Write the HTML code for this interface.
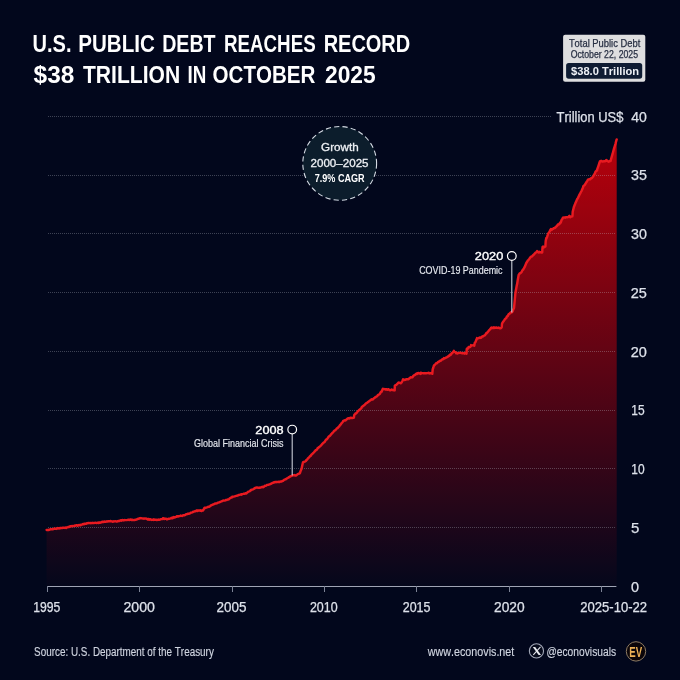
<!DOCTYPE html>
<html lang="en">
<head>
<meta charset="utf-8">
<title>U.S. Public Debt Reaches Record $38 Trillion in October 2025</title>
<style>
html,body{margin:0;padding:0;background:#02071c;}
body{width:680px;height:680px;overflow:hidden;}
svg{display:block;font-family:"Liberation Sans",sans-serif;font-kerning:none;}
.ti text{font-weight:700;font-size:24.2px;fill:#ffffff;}
.grid line{stroke:#c8ccd8;stroke-opacity:.3;stroke-width:1;stroke-dasharray:1 1;}
.al text{font-size:14.2px;fill:#dde1ea;stroke:#dde1ea;stroke-width:.25;}
.axis line{stroke:#9fa4b4;stroke-width:1;}
.axis .tk line{stroke:#7d8396;}
.bx text{fill:#262e42;font-size:10.6px;stroke:#262e42;stroke-width:.25;}
.bx text+text{font-size:10.3px;}
.bp text{fill:#eef1f6;font-size:11.8px;font-weight:700;}
.gr text{font-size:11.7px;fill:#eef1f5;stroke:#eef1f5;stroke-width:.3;}
.gb text{font-size:11.7px;fill:#ffffff;font-weight:700;}
.yr text{font-size:11.8px;fill:#ffffff;stroke:#ffffff;stroke-width:.35;}
.ds text{font-size:10.6px;fill:#e6e9ef;stroke:#e6e9ef;stroke-width:.15;}
.ft text{font-size:12.5px;fill:#d0d5e0;stroke:#d0d5e0;stroke-width:.15;}
.ev text{font-size:15.3px;font-weight:700;fill:#ecb157;}
</style>
</head>
<body>
<svg width="680" height="680" viewBox="0 0 680 680">
<defs>
<linearGradient id="ar" gradientUnits="userSpaceOnUse" x1="0" y1="137" x2="0" y2="586">
<stop offset="0" stop-color="#c8000a" stop-opacity="0.92"/>
<stop offset="1" stop-color="#c8000a" stop-opacity="0.015"/>
</linearGradient>
</defs>
<rect width="680" height="680" fill="#02071c"/>

<g class="ti">
<text x="32.56" y="51.7" textLength="38.94" lengthAdjust="spacingAndGlyphs">U.S.</text>
<text x="78.22" y="51.7" textLength="76.56" lengthAdjust="spacingAndGlyphs">PUBLIC</text>
<text x="162.18" y="51.7" textLength="53.42" lengthAdjust="spacingAndGlyphs">DEBT</text>
<text x="224.04" y="51.7" textLength="91.6" lengthAdjust="spacingAndGlyphs">REACHES</text>
<text x="323.66" y="51.7" textLength="86.56" lengthAdjust="spacingAndGlyphs">RECORD</text>
<text x="33.55" y="83.3" textLength="40.79" lengthAdjust="spacingAndGlyphs">$38</text>
<text x="82.98" y="83.3" textLength="97.19" lengthAdjust="spacingAndGlyphs">TRILLION</text>
<text x="187.54" y="83.3" textLength="18.79" lengthAdjust="spacingAndGlyphs">IN</text>
<text x="212.55" y="83.3" textLength="102.88" lengthAdjust="spacingAndGlyphs">OCTOBER</text>
<text x="324.99" y="83.3" textLength="50.66" lengthAdjust="spacingAndGlyphs">2025</text>
</g>

<path d="M46.6,530.0 L47.6,529.9 L48.4,530.1 L49.1,529.7 L49.9,529.5 L50.7,529.2 L51.4,529.3 L52.2,529.3 L53.0,529.2 L53.8,528.8 L54.5,528.5 L55.3,528.7 L56.1,528.9 L56.8,528.7 L57.6,528.1 L58.4,528.2 L59.1,528.5 L59.9,528.0 L60.5,528.2 L60.7,528.0 L61.5,528.0 L62.2,528.0 L63.0,527.7 L63.8,527.8 L64.5,527.9 L65.3,527.6 L65.9,527.5 L66.1,528.0 L66.8,527.4 L67.6,527.3 L68.4,526.9 L69.1,526.9 L69.9,526.4 L70.7,526.2 L70.7,526.2 L71.5,526.3 L72.2,526.0 L73.0,526.1 L73.8,526.0 L74.5,525.6 L75.3,525.8 L76.1,525.3 L76.8,525.2 L77.6,525.7 L78.4,525.1 L79.2,525.3 L79.9,525.0 L79.9,525.0 L80.7,525.2 L81.5,524.6 L82.2,524.5 L83.0,524.0 L83.8,524.2 L84.5,523.7 L84.5,524.0 L85.3,523.8 L86.1,523.8 L86.8,523.2 L87.6,523.3 L88.4,522.9 L89.2,523.1 L89.9,523.0 L90.1,522.9 L90.7,523.2 L91.5,523.1 L92.2,522.8 L93.0,523.1 L93.8,522.9 L94.5,522.9 L95.3,522.8 L96.1,522.9 L96.9,522.9 L97.6,522.7 L98.4,522.7 L98.4,522.9 L99.2,522.4 L99.9,522.7 L100.7,522.5 L101.5,522.3 L102.2,521.7 L103.0,521.8 L103.0,521.9 L103.8,521.9 L104.5,521.5 L105.3,521.7 L106.1,521.7 L106.9,521.3 L107.6,521.5 L108.4,521.3 L108.6,521.2 L109.2,521.3 L109.9,521.3 L110.7,521.0 L111.5,521.4 L112.2,521.5 L113.0,521.7 L113.8,521.3 L114.6,521.4 L115.3,521.3 L116.1,521.4 L116.9,521.4 L116.9,521.5 L117.6,521.3 L118.4,521.0 L119.2,521.0 L119.9,520.7 L120.7,520.2 L121.5,520.3 L121.5,520.7 L122.2,520.0 L123.0,520.2 L123.8,520.4 L124.6,520.0 L125.3,520.1 L126.1,520.1 L126.9,520.1 L127.0,520.1 L127.6,519.9 L128.4,519.7 L129.2,520.0 L129.9,519.8 L130.7,519.5 L131.5,520.1 L132.3,519.8 L133.0,519.9 L133.8,520.1 L134.6,520.0 L135.3,519.8 L135.3,519.7 L136.1,519.7 L136.9,519.3 L137.6,519.0 L138.4,518.8 L139.2,518.5 L139.9,518.3 L140.0,518.3 L140.7,518.1 L141.5,518.3 L142.3,518.4 L143.0,518.4 L143.8,518.7 L144.6,518.6 L144.6,518.4 L145.3,518.6 L146.1,518.5 L146.9,519.0 L147.6,519.4 L148.4,518.9 L149.2,519.3 L149.2,519.7 L150.0,519.2 L150.7,519.5 L151.5,519.9 L152.3,519.7 L153.0,519.8 L153.8,519.4 L153.8,519.9 L154.6,519.8 L155.3,519.8 L156.1,519.8 L156.9,520.0 L157.7,519.8 L158.4,519.6 L158.4,519.7 L159.2,519.8 L160.0,519.6 L160.7,519.2 L161.5,519.1 L162.3,518.9 L163.0,518.9 L163.0,518.1 L163.8,518.4 L164.6,518.9 L165.3,518.6 L166.1,518.6 L166.9,519.4 L167.7,519.1 L167.7,519.1 L168.4,518.7 L169.2,518.7 L170.0,518.6 L170.7,518.4 L171.5,517.9 L172.3,517.6 L172.3,518.2 L173.0,518.0 L173.8,517.0 L174.6,517.5 L175.4,517.2 L176.1,516.8 L176.9,516.4 L176.9,516.3 L177.7,516.3 L178.4,516.5 L179.2,516.1 L180.0,516.0 L180.7,515.6 L181.5,515.9 L182.3,516.0 L182.4,515.9 L183.0,515.2 L183.8,515.3 L184.6,515.3 L185.4,514.7 L186.1,514.3 L186.1,514.1 L186.9,514.3 L187.7,513.8 L188.4,513.6 L189.2,513.7 L190.0,513.4 L190.7,512.8 L190.7,512.8 L191.5,512.6 L192.3,512.4 L193.1,511.8 L193.8,511.7 L194.6,511.4 L195.4,511.2 L195.4,511.0 L196.1,511.0 L196.9,510.3 L197.7,510.9 L198.4,510.5 L199.2,510.4 L200.0,510.7 L200.7,510.3 L201.5,511.0 L202.3,510.4 L202.7,510.3 L203.1,510.5 L203.8,509.2 L204.6,507.7 L204.6,508.0 L205.4,508.0 L206.1,507.6 L206.9,507.4 L207.7,507.0 L208.4,506.8 L209.2,506.7 L209.2,506.8 L210.0,506.2 L210.8,505.5 L211.5,505.3 L212.3,504.8 L213.1,504.5 L213.8,504.4 L213.8,504.2 L214.6,503.7 L215.4,503.5 L216.1,503.5 L216.9,503.4 L217.7,502.7 L218.4,502.6 L219.2,502.3 L220.0,502.0 L220.8,501.6 L221.5,501.4 L222.3,501.0 L223.1,500.7 L223.1,500.6 L223.8,500.5 L224.6,500.6 L225.4,500.3 L226.1,499.9 L226.9,499.9 L227.7,499.5 L227.7,499.4 L228.5,499.4 L229.2,499.1 L230.0,498.1 L230.8,497.9 L231.5,497.3 L232.3,497.3 L232.3,496.7 L233.1,496.6 L233.8,496.6 L234.6,496.4 L235.4,496.1 L236.1,495.9 L236.9,495.7 L237.7,495.6 L238.5,494.9 L239.2,494.9 L240.0,494.7 L240.8,494.4 L241.5,494.7 L241.5,494.1 L242.3,494.1 L243.1,493.9 L243.8,493.7 L244.6,493.7 L245.4,493.2 L246.2,493.3 L246.2,493.4 L246.9,492.9 L247.7,492.2 L248.5,491.6 L249.2,491.4 L250.0,491.1 L250.8,490.1 L250.8,490.6 L251.5,489.7 L252.3,489.6 L253.1,489.3 L253.8,488.9 L254.6,488.3 L255.4,487.8 L255.4,488.0 L256.2,487.7 L256.9,487.4 L257.7,487.7 L258.5,487.8 L259.2,487.7 L260.0,487.7 L260.0,487.5 L260.8,487.4 L261.5,487.3 L262.3,486.8 L263.1,487.3 L263.9,486.8 L264.6,485.9 L264.6,486.1 L265.4,485.9 L266.2,485.6 L266.9,485.0 L267.7,484.9 L268.5,484.7 L269.2,484.6 L269.2,484.4 L270.0,484.2 L270.8,483.8 L271.5,483.5 L272.3,483.0 L273.1,482.8 L273.9,482.2 L273.9,482.6 L274.6,482.4 L275.4,481.9 L276.2,482.2 L276.9,481.9 L277.7,481.9 L278.5,481.8 L278.5,482.0 L279.2,482.1 L280.0,481.6 L280.8,481.4 L281.6,481.4 L282.3,480.9 L283.1,480.7 L283.1,480.8 L283.9,480.0 L284.6,479.6 L285.4,479.3 L286.2,479.0 L286.9,478.4 L287.7,478.0 L287.7,478.0 L288.5,477.5 L289.2,477.2 L290.0,476.6 L290.8,476.1 L291.6,475.8 L292.3,475.6 L292.3,475.6 L293.1,475.2 L293.9,475.3 L294.6,475.1 L295.4,475.6 L296.2,475.5 L296.9,474.8 L296.9,474.8 L297.7,474.1 L298.5,473.8 L299.3,473.5 L299.7,473.3 L300.0,472.8 L300.8,470.4 L301.6,468.7 L301.6,468.5 L302.3,465.3 L303.0,462.3 L303.1,462.2 L303.9,462.0 L304.6,461.6 L305.4,461.3 L306.2,460.7 L306.2,460.2 L306.9,459.9 L307.7,458.7 L308.5,457.9 L309.3,457.1 L310.0,456.2 L310.8,455.8 L310.8,455.5 L311.6,454.4 L312.3,454.1 L313.1,453.1 L313.9,452.4 L314.6,451.4 L315.4,450.9 L315.4,450.3 L316.2,450.0 L317.0,449.6 L317.7,448.1 L318.5,447.6 L319.3,447.0 L320.0,446.3 L320.0,446.5 L320.8,445.7 L321.6,444.7 L322.3,443.9 L323.1,443.1 L323.9,442.5 L324.6,441.8 L324.7,441.8 L325.4,440.6 L326.2,439.6 L327.0,439.1 L327.7,438.2 L328.5,436.9 L329.3,436.1 L329.3,436.1 L330.0,435.8 L330.8,434.7 L331.6,433.9 L332.3,432.9 L333.1,432.5 L333.9,431.0 L333.9,431.2 L334.7,430.5 L335.4,430.1 L336.2,429.2 L337.0,428.1 L337.7,428.1 L338.5,427.0 L338.5,426.9 L339.3,426.3 L340.0,425.0 L340.8,424.4 L341.6,423.1 L342.4,422.3 L343.1,421.5 L343.1,421.0 L343.9,420.8 L344.7,420.3 L345.4,420.4 L346.2,419.8 L347.0,419.0 L347.7,418.5 L347.7,418.7 L348.5,418.2 L349.3,418.4 L350.0,417.9 L350.1,418.2 L350.8,417.8 L351.6,418.0 L352.4,418.0 L353.1,417.9 L353.8,417.4 L353.9,417.7 L354.2,415.2 L354.7,414.4 L355.4,414.0 L355.5,413.4 L356.2,413.2 L357.0,412.6 L357.0,412.5 L357.7,411.3 L358.5,410.7 L359.3,409.9 L360.1,409.2 L360.8,408.8 L361.6,407.8 L361.6,407.2 L362.4,406.6 L363.1,406.0 L363.9,405.3 L364.7,404.9 L365.4,403.9 L366.2,403.5 L366.2,403.2 L367.0,402.9 L367.7,402.3 L368.5,401.6 L369.3,401.2 L370.1,400.4 L370.8,399.9 L370.8,399.9 L371.6,399.3 L372.4,399.6 L373.1,399.2 L373.9,398.2 L374.7,397.7 L375.4,397.0 L375.4,397.4 L376.2,396.6 L377.0,396.4 L377.8,395.2 L378.5,394.6 L379.3,394.3 L380.1,393.6 L380.1,393.4 L380.8,392.0 L381.6,391.7 L382.4,389.7 L382.8,388.9 L383.1,389.1 L383.9,389.0 L384.7,389.1 L385.4,389.5 L386.2,389.2 L387.0,389.5 L387.1,389.7 L387.8,389.5 L388.5,389.2 L389.3,390.0 L390.1,390.2 L390.8,390.2 L391.6,389.4 L392.4,390.0 L393.1,390.0 L393.9,390.3 L394.7,390.4 L394.7,389.9 L394.8,385.7 L395.5,385.1 L396.2,385.0 L397.0,384.1 L397.8,383.4 L398.5,382.5 L398.5,382.5 L399.3,382.6 L400.1,382.9 L400.7,383.3 L400.8,383.1 L401.6,382.5 L402.4,381.0 L403.1,379.3 L403.1,379.5 L403.9,379.5 L404.7,380.0 L405.5,379.9 L406.2,379.2 L407.0,379.2 L407.8,379.3 L407.8,379.3 L408.5,379.3 L409.3,378.4 L410.1,377.8 L410.8,377.3 L411.6,377.4 L412.4,377.1 L412.4,377.3 L413.2,376.0 L413.9,375.3 L414.7,375.3 L415.5,374.4 L416.2,373.8 L417.0,373.4 L417.0,373.9 L417.8,373.3 L418.5,373.0 L419.3,373.6 L420.1,373.4 L420.7,374.0 L420.8,372.8 L421.6,373.0 L422.4,373.1 L423.2,373.2 L423.9,373.3 L424.7,373.1 L425.5,373.2 L426.2,373.2 L427.0,373.1 L427.8,373.1 L428.5,372.7 L429.3,373.5 L430.1,373.1 L430.9,373.3 L431.6,373.4 L432.3,373.8 L432.4,372.3 L432.7,369.3 L433.2,368.0 L433.9,365.5 L434.0,365.8 L434.7,364.8 L435.5,364.1 L435.5,363.9 L436.2,363.3 L437.0,363.2 L437.8,362.2 L438.5,361.9 L439.3,361.3 L440.1,360.9 L440.1,360.6 L440.9,360.7 L441.6,359.9 L442.4,359.2 L443.2,359.2 L443.9,358.1 L444.7,358.4 L444.7,358.2 L445.5,357.9 L446.2,357.5 L447.0,357.2 L447.8,356.6 L448.6,356.1 L449.3,355.9 L449.3,355.4 L450.1,354.5 L450.9,354.7 L451.6,353.4 L452.4,352.9 L453.2,352.2 L453.9,350.9 L453.9,351.3 L454.7,351.9 L455.5,352.2 L456.2,353.2 L457.0,352.7 L457.6,353.4 L457.8,353.1 L458.6,353.1 L459.3,352.9 L460.1,352.6 L460.9,352.9 L461.6,352.9 L462.4,353.3 L463.2,353.1 L463.9,353.0 L464.7,353.7 L465.5,352.7 L466.3,353.5 L466.5,353.6 L466.7,349.1 L467.0,348.6 L467.8,348.8 L467.8,348.8 L468.6,347.0 L469.3,347.2 L470.1,347.1 L470.9,346.0 L471.1,345.1 L471.6,345.5 L472.4,345.4 L473.2,345.3 L473.9,345.5 L474.3,345.7 L474.6,343.6 L474.7,342.9 L475.5,341.9 L476.3,340.1 L477.0,338.1 L477.0,338.4 L477.8,338.4 L478.6,338.1 L479.3,337.7 L480.1,337.5 L480.9,337.9 L481.6,337.3 L481.6,336.8 L482.4,336.5 L483.2,336.3 L484.0,335.6 L484.7,335.4 L485.5,334.4 L486.3,333.1 L486.3,333.6 L487.0,332.9 L487.8,332.0 L488.6,330.9 L489.3,330.1 L490.1,329.2 L490.9,328.5 L490.9,328.1 L491.6,327.6 L492.4,328.1 L493.2,327.9 L494.0,327.2 L494.0,328.0 L494.7,327.7 L495.5,327.7 L496.3,327.5 L497.0,327.7 L497.8,327.9 L498.6,327.5 L499.3,328.0 L500.1,328.2 L500.9,328.3 L501.6,327.5 L501.7,327.5 L502.0,323.7 L502.4,322.9 L503.2,321.6 L504.0,320.7 L504.7,319.6 L504.7,319.4 L505.5,318.7 L506.3,318.0 L507.0,316.3 L507.8,316.0 L508.6,314.2 L509.4,313.7 L509.4,314.0 L510.1,313.1 L510.9,312.2 L511.7,312.4 L512.4,311.7 L512.5,311.7 L513.2,309.7 L514.0,307.9 L514.0,308.1 L514.7,300.5 L515.4,293.2 L515.5,292.3 L516.3,288.1 L517.0,284.2 L517.1,284.3 L517.8,279.6 L518.6,275.2 L518.6,275.2 L519.4,273.8 L520.1,273.2 L520.9,272.8 L521.7,271.9 L522.4,270.2 L523.2,269.7 L523.2,269.5 L524.0,268.2 L524.7,266.9 L525.5,265.0 L526.3,263.0 L527.1,261.8 L527.8,260.7 L527.8,260.5 L528.6,259.8 L529.4,258.8 L530.1,257.8 L530.9,256.7 L531.7,256.6 L532.4,256.0 L532.4,255.9 L533.2,255.1 L534.0,254.5 L534.7,253.5 L535.5,252.7 L536.3,252.4 L537.1,251.0 L537.1,251.3 L537.8,252.0 L538.6,252.0 L538.9,252.5 L539.4,251.8 L540.1,252.2 L540.9,252.3 L541.7,252.6 L542.2,252.5 L542.4,248.8 L542.6,247.0 L543.2,246.5 L544.0,247.4 L544.8,246.7 L545.4,246.5 L545.5,244.2 L545.7,241.0 L546.3,238.0 L546.3,238.7 L547.1,236.9 L547.8,234.6 L548.1,233.5 L548.6,233.0 L549.4,231.9 L550.1,230.4 L550.9,229.1 L550.9,229.7 L551.7,229.9 L552.4,228.9 L553.2,228.7 L554.0,228.1 L554.8,228.0 L555.5,227.5 L555.5,227.1 L556.3,226.5 L557.1,225.8 L557.8,224.5 L558.6,224.6 L559.4,223.8 L560.1,222.6 L560.1,223.4 L560.9,222.2 L561.7,219.7 L562.5,218.7 L562.9,217.7 L563.2,217.6 L564.0,217.4 L564.8,217.6 L565.5,217.3 L565.7,217.6 L566.3,217.1 L567.1,217.1 L567.8,217.2 L568.6,216.8 L569.4,215.9 L570.1,217.3 L570.9,216.6 L571.7,216.5 L572.3,216.4 L572.5,215.5 L572.7,211.8 L573.2,209.7 L574.0,206.6 L574.0,206.7 L574.8,204.8 L575.5,202.9 L576.3,201.3 L577.1,199.1 L577.8,198.4 L578.6,196.4 L578.6,196.8 L579.4,194.8 L580.2,193.4 L580.9,192.0 L581.7,190.6 L582.5,188.8 L583.2,186.8 L583.2,186.4 L584.0,185.5 L584.8,185.0 L585.5,183.6 L586.3,182.3 L587.1,181.2 L587.8,180.0 L587.8,179.7 L588.6,179.5 L589.4,179.3 L590.2,179.3 L590.9,178.3 L591.7,178.3 L592.5,177.3 L592.5,177.1 L593.2,176.5 L594.0,174.8 L594.8,173.6 L595.5,171.6 L596.3,170.9 L597.1,170.5 L597.1,169.7 L597.9,167.4 L598.6,165.3 L599.4,163.0 L599.9,161.3 L600.2,161.2 L600.9,161.0 L601.7,161.3 L601.7,161.0 L602.5,161.5 L603.2,161.5 L604.0,161.1 L604.8,161.3 L605.5,161.1 L606.3,160.0 L607.1,160.7 L607.9,161.3 L608.6,161.7 L609.4,161.3 L610.2,160.9 L610.6,160.9 L610.9,159.6 L611.7,156.9 L612.5,154.2 L613.2,151.5 L614.0,148.7 L614.8,146.0 L615.6,143.3 L616.3,140.6 L616.7,139.4 L616.7,586.3 L46.6,586.3 Z" fill="url(#ar)"/>
<g class="grid">
<line x1="48" x2="616" y1="527.5" y2="527.5"/>
<line x1="48" x2="616" y1="468.5" y2="468.5"/>
<line x1="48" x2="616" y1="410.5" y2="410.5"/>
<line x1="48" x2="616" y1="351.5" y2="351.5"/>
<line x1="48" x2="616" y1="292.5" y2="292.5"/>
<line x1="48" x2="616" y1="233.5" y2="233.5"/>
<line x1="48" x2="616" y1="175.5" y2="175.5"/>
<line x1="48" x2="551" y1="116.5" y2="116.5"/>
</g>
<path d="M46.6,530.0 L47.6,529.9 L48.4,530.1 L49.1,529.7 L49.9,529.5 L50.7,529.2 L51.4,529.3 L52.2,529.3 L53.0,529.2 L53.8,528.8 L54.5,528.5 L55.3,528.7 L56.1,528.9 L56.8,528.7 L57.6,528.1 L58.4,528.2 L59.1,528.5 L59.9,528.0 L60.5,528.2 L60.7,528.0 L61.5,528.0 L62.2,528.0 L63.0,527.7 L63.8,527.8 L64.5,527.9 L65.3,527.6 L65.9,527.5 L66.1,528.0 L66.8,527.4 L67.6,527.3 L68.4,526.9 L69.1,526.9 L69.9,526.4 L70.7,526.2 L70.7,526.2 L71.5,526.3 L72.2,526.0 L73.0,526.1 L73.8,526.0 L74.5,525.6 L75.3,525.8 L76.1,525.3 L76.8,525.2 L77.6,525.7 L78.4,525.1 L79.2,525.3 L79.9,525.0 L79.9,525.0 L80.7,525.2 L81.5,524.6 L82.2,524.5 L83.0,524.0 L83.8,524.2 L84.5,523.7 L84.5,524.0 L85.3,523.8 L86.1,523.8 L86.8,523.2 L87.6,523.3 L88.4,522.9 L89.2,523.1 L89.9,523.0 L90.1,522.9 L90.7,523.2 L91.5,523.1 L92.2,522.8 L93.0,523.1 L93.8,522.9 L94.5,522.9 L95.3,522.8 L96.1,522.9 L96.9,522.9 L97.6,522.7 L98.4,522.7 L98.4,522.9 L99.2,522.4 L99.9,522.7 L100.7,522.5 L101.5,522.3 L102.2,521.7 L103.0,521.8 L103.0,521.9 L103.8,521.9 L104.5,521.5 L105.3,521.7 L106.1,521.7 L106.9,521.3 L107.6,521.5 L108.4,521.3 L108.6,521.2 L109.2,521.3 L109.9,521.3 L110.7,521.0 L111.5,521.4 L112.2,521.5 L113.0,521.7 L113.8,521.3 L114.6,521.4 L115.3,521.3 L116.1,521.4 L116.9,521.4 L116.9,521.5 L117.6,521.3 L118.4,521.0 L119.2,521.0 L119.9,520.7 L120.7,520.2 L121.5,520.3 L121.5,520.7 L122.2,520.0 L123.0,520.2 L123.8,520.4 L124.6,520.0 L125.3,520.1 L126.1,520.1 L126.9,520.1 L127.0,520.1 L127.6,519.9 L128.4,519.7 L129.2,520.0 L129.9,519.8 L130.7,519.5 L131.5,520.1 L132.3,519.8 L133.0,519.9 L133.8,520.1 L134.6,520.0 L135.3,519.8 L135.3,519.7 L136.1,519.7 L136.9,519.3 L137.6,519.0 L138.4,518.8 L139.2,518.5 L139.9,518.3 L140.0,518.3 L140.7,518.1 L141.5,518.3 L142.3,518.4 L143.0,518.4 L143.8,518.7 L144.6,518.6 L144.6,518.4 L145.3,518.6 L146.1,518.5 L146.9,519.0 L147.6,519.4 L148.4,518.9 L149.2,519.3 L149.2,519.7 L150.0,519.2 L150.7,519.5 L151.5,519.9 L152.3,519.7 L153.0,519.8 L153.8,519.4 L153.8,519.9 L154.6,519.8 L155.3,519.8 L156.1,519.8 L156.9,520.0 L157.7,519.8 L158.4,519.6 L158.4,519.7 L159.2,519.8 L160.0,519.6 L160.7,519.2 L161.5,519.1 L162.3,518.9 L163.0,518.9 L163.0,518.1 L163.8,518.4 L164.6,518.9 L165.3,518.6 L166.1,518.6 L166.9,519.4 L167.7,519.1 L167.7,519.1 L168.4,518.7 L169.2,518.7 L170.0,518.6 L170.7,518.4 L171.5,517.9 L172.3,517.6 L172.3,518.2 L173.0,518.0 L173.8,517.0 L174.6,517.5 L175.4,517.2 L176.1,516.8 L176.9,516.4 L176.9,516.3 L177.7,516.3 L178.4,516.5 L179.2,516.1 L180.0,516.0 L180.7,515.6 L181.5,515.9 L182.3,516.0 L182.4,515.9 L183.0,515.2 L183.8,515.3 L184.6,515.3 L185.4,514.7 L186.1,514.3 L186.1,514.1 L186.9,514.3 L187.7,513.8 L188.4,513.6 L189.2,513.7 L190.0,513.4 L190.7,512.8 L190.7,512.8 L191.5,512.6 L192.3,512.4 L193.1,511.8 L193.8,511.7 L194.6,511.4 L195.4,511.2 L195.4,511.0 L196.1,511.0 L196.9,510.3 L197.7,510.9 L198.4,510.5 L199.2,510.4 L200.0,510.7 L200.7,510.3 L201.5,511.0 L202.3,510.4 L202.7,510.3 L203.1,510.5 L203.8,509.2 L204.6,507.7 L204.6,508.0 L205.4,508.0 L206.1,507.6 L206.9,507.4 L207.7,507.0 L208.4,506.8 L209.2,506.7 L209.2,506.8 L210.0,506.2 L210.8,505.5 L211.5,505.3 L212.3,504.8 L213.1,504.5 L213.8,504.4 L213.8,504.2 L214.6,503.7 L215.4,503.5 L216.1,503.5 L216.9,503.4 L217.7,502.7 L218.4,502.6 L219.2,502.3 L220.0,502.0 L220.8,501.6 L221.5,501.4 L222.3,501.0 L223.1,500.7 L223.1,500.6 L223.8,500.5 L224.6,500.6 L225.4,500.3 L226.1,499.9 L226.9,499.9 L227.7,499.5 L227.7,499.4 L228.5,499.4 L229.2,499.1 L230.0,498.1 L230.8,497.9 L231.5,497.3 L232.3,497.3 L232.3,496.7 L233.1,496.6 L233.8,496.6 L234.6,496.4 L235.4,496.1 L236.1,495.9 L236.9,495.7 L237.7,495.6 L238.5,494.9 L239.2,494.9 L240.0,494.7 L240.8,494.4 L241.5,494.7 L241.5,494.1 L242.3,494.1 L243.1,493.9 L243.8,493.7 L244.6,493.7 L245.4,493.2 L246.2,493.3 L246.2,493.4 L246.9,492.9 L247.7,492.2 L248.5,491.6 L249.2,491.4 L250.0,491.1 L250.8,490.1 L250.8,490.6 L251.5,489.7 L252.3,489.6 L253.1,489.3 L253.8,488.9 L254.6,488.3 L255.4,487.8 L255.4,488.0 L256.2,487.7 L256.9,487.4 L257.7,487.7 L258.5,487.8 L259.2,487.7 L260.0,487.7 L260.0,487.5 L260.8,487.4 L261.5,487.3 L262.3,486.8 L263.1,487.3 L263.9,486.8 L264.6,485.9 L264.6,486.1 L265.4,485.9 L266.2,485.6 L266.9,485.0 L267.7,484.9 L268.5,484.7 L269.2,484.6 L269.2,484.4 L270.0,484.2 L270.8,483.8 L271.5,483.5 L272.3,483.0 L273.1,482.8 L273.9,482.2 L273.9,482.6 L274.6,482.4 L275.4,481.9 L276.2,482.2 L276.9,481.9 L277.7,481.9 L278.5,481.8 L278.5,482.0 L279.2,482.1 L280.0,481.6 L280.8,481.4 L281.6,481.4 L282.3,480.9 L283.1,480.7 L283.1,480.8 L283.9,480.0 L284.6,479.6 L285.4,479.3 L286.2,479.0 L286.9,478.4 L287.7,478.0 L287.7,478.0 L288.5,477.5 L289.2,477.2 L290.0,476.6 L290.8,476.1 L291.6,475.8 L292.3,475.6 L292.3,475.6 L293.1,475.2 L293.9,475.3 L294.6,475.1 L295.4,475.6 L296.2,475.5 L296.9,474.8 L296.9,474.8 L297.7,474.1 L298.5,473.8 L299.3,473.5 L299.7,473.3 L300.0,472.8 L300.8,470.4 L301.6,468.7 L301.6,468.5 L302.3,465.3 L303.0,462.3 L303.1,462.2 L303.9,462.0 L304.6,461.6 L305.4,461.3 L306.2,460.7 L306.2,460.2 L306.9,459.9 L307.7,458.7 L308.5,457.9 L309.3,457.1 L310.0,456.2 L310.8,455.8 L310.8,455.5 L311.6,454.4 L312.3,454.1 L313.1,453.1 L313.9,452.4 L314.6,451.4 L315.4,450.9 L315.4,450.3 L316.2,450.0 L317.0,449.6 L317.7,448.1 L318.5,447.6 L319.3,447.0 L320.0,446.3 L320.0,446.5 L320.8,445.7 L321.6,444.7 L322.3,443.9 L323.1,443.1 L323.9,442.5 L324.6,441.8 L324.7,441.8 L325.4,440.6 L326.2,439.6 L327.0,439.1 L327.7,438.2 L328.5,436.9 L329.3,436.1 L329.3,436.1 L330.0,435.8 L330.8,434.7 L331.6,433.9 L332.3,432.9 L333.1,432.5 L333.9,431.0 L333.9,431.2 L334.7,430.5 L335.4,430.1 L336.2,429.2 L337.0,428.1 L337.7,428.1 L338.5,427.0 L338.5,426.9 L339.3,426.3 L340.0,425.0 L340.8,424.4 L341.6,423.1 L342.4,422.3 L343.1,421.5 L343.1,421.0 L343.9,420.8 L344.7,420.3 L345.4,420.4 L346.2,419.8 L347.0,419.0 L347.7,418.5 L347.7,418.7 L348.5,418.2 L349.3,418.4 L350.0,417.9 L350.1,418.2 L350.8,417.8 L351.6,418.0 L352.4,418.0 L353.1,417.9 L353.8,417.4 L353.9,417.7 L354.2,415.2 L354.7,414.4 L355.4,414.0 L355.5,413.4 L356.2,413.2 L357.0,412.6 L357.0,412.5 L357.7,411.3 L358.5,410.7 L359.3,409.9 L360.1,409.2 L360.8,408.8 L361.6,407.8 L361.6,407.2 L362.4,406.6 L363.1,406.0 L363.9,405.3 L364.7,404.9 L365.4,403.9 L366.2,403.5 L366.2,403.2 L367.0,402.9 L367.7,402.3 L368.5,401.6 L369.3,401.2 L370.1,400.4 L370.8,399.9 L370.8,399.9 L371.6,399.3 L372.4,399.6 L373.1,399.2 L373.9,398.2 L374.7,397.7 L375.4,397.0 L375.4,397.4 L376.2,396.6 L377.0,396.4 L377.8,395.2 L378.5,394.6 L379.3,394.3 L380.1,393.6 L380.1,393.4 L380.8,392.0 L381.6,391.7 L382.4,389.7 L382.8,388.9 L383.1,389.1 L383.9,389.0 L384.7,389.1 L385.4,389.5 L386.2,389.2 L387.0,389.5 L387.1,389.7 L387.8,389.5 L388.5,389.2 L389.3,390.0 L390.1,390.2 L390.8,390.2 L391.6,389.4 L392.4,390.0 L393.1,390.0 L393.9,390.3 L394.7,390.4 L394.7,389.9 L394.8,385.7 L395.5,385.1 L396.2,385.0 L397.0,384.1 L397.8,383.4 L398.5,382.5 L398.5,382.5 L399.3,382.6 L400.1,382.9 L400.7,383.3 L400.8,383.1 L401.6,382.5 L402.4,381.0 L403.1,379.3 L403.1,379.5 L403.9,379.5 L404.7,380.0 L405.5,379.9 L406.2,379.2 L407.0,379.2 L407.8,379.3 L407.8,379.3 L408.5,379.3 L409.3,378.4 L410.1,377.8 L410.8,377.3 L411.6,377.4 L412.4,377.1 L412.4,377.3 L413.2,376.0 L413.9,375.3 L414.7,375.3 L415.5,374.4 L416.2,373.8 L417.0,373.4 L417.0,373.9 L417.8,373.3 L418.5,373.0 L419.3,373.6 L420.1,373.4 L420.7,374.0 L420.8,372.8 L421.6,373.0 L422.4,373.1 L423.2,373.2 L423.9,373.3 L424.7,373.1 L425.5,373.2 L426.2,373.2 L427.0,373.1 L427.8,373.1 L428.5,372.7 L429.3,373.5 L430.1,373.1 L430.9,373.3 L431.6,373.4 L432.3,373.8 L432.4,372.3 L432.7,369.3 L433.2,368.0 L433.9,365.5 L434.0,365.8 L434.7,364.8 L435.5,364.1 L435.5,363.9 L436.2,363.3 L437.0,363.2 L437.8,362.2 L438.5,361.9 L439.3,361.3 L440.1,360.9 L440.1,360.6 L440.9,360.7 L441.6,359.9 L442.4,359.2 L443.2,359.2 L443.9,358.1 L444.7,358.4 L444.7,358.2 L445.5,357.9 L446.2,357.5 L447.0,357.2 L447.8,356.6 L448.6,356.1 L449.3,355.9 L449.3,355.4 L450.1,354.5 L450.9,354.7 L451.6,353.4 L452.4,352.9 L453.2,352.2 L453.9,350.9 L453.9,351.3 L454.7,351.9 L455.5,352.2 L456.2,353.2 L457.0,352.7 L457.6,353.4 L457.8,353.1 L458.6,353.1 L459.3,352.9 L460.1,352.6 L460.9,352.9 L461.6,352.9 L462.4,353.3 L463.2,353.1 L463.9,353.0 L464.7,353.7 L465.5,352.7 L466.3,353.5 L466.5,353.6 L466.7,349.1 L467.0,348.6 L467.8,348.8 L467.8,348.8 L468.6,347.0 L469.3,347.2 L470.1,347.1 L470.9,346.0 L471.1,345.1 L471.6,345.5 L472.4,345.4 L473.2,345.3 L473.9,345.5 L474.3,345.7 L474.6,343.6 L474.7,342.9 L475.5,341.9 L476.3,340.1 L477.0,338.1 L477.0,338.4 L477.8,338.4 L478.6,338.1 L479.3,337.7 L480.1,337.5 L480.9,337.9 L481.6,337.3 L481.6,336.8 L482.4,336.5 L483.2,336.3 L484.0,335.6 L484.7,335.4 L485.5,334.4 L486.3,333.1 L486.3,333.6 L487.0,332.9 L487.8,332.0 L488.6,330.9 L489.3,330.1 L490.1,329.2 L490.9,328.5 L490.9,328.1 L491.6,327.6 L492.4,328.1 L493.2,327.9 L494.0,327.2 L494.0,328.0 L494.7,327.7 L495.5,327.7 L496.3,327.5 L497.0,327.7 L497.8,327.9 L498.6,327.5 L499.3,328.0 L500.1,328.2 L500.9,328.3 L501.6,327.5 L501.7,327.5 L502.0,323.7 L502.4,322.9 L503.2,321.6 L504.0,320.7 L504.7,319.6 L504.7,319.4 L505.5,318.7 L506.3,318.0 L507.0,316.3 L507.8,316.0 L508.6,314.2 L509.4,313.7 L509.4,314.0 L510.1,313.1 L510.9,312.2 L511.7,312.4 L512.4,311.7 L512.5,311.7 L513.2,309.7 L514.0,307.9 L514.0,308.1 L514.7,300.5 L515.4,293.2 L515.5,292.3 L516.3,288.1 L517.0,284.2 L517.1,284.3 L517.8,279.6 L518.6,275.2 L518.6,275.2 L519.4,273.8 L520.1,273.2 L520.9,272.8 L521.7,271.9 L522.4,270.2 L523.2,269.7 L523.2,269.5 L524.0,268.2 L524.7,266.9 L525.5,265.0 L526.3,263.0 L527.1,261.8 L527.8,260.7 L527.8,260.5 L528.6,259.8 L529.4,258.8 L530.1,257.8 L530.9,256.7 L531.7,256.6 L532.4,256.0 L532.4,255.9 L533.2,255.1 L534.0,254.5 L534.7,253.5 L535.5,252.7 L536.3,252.4 L537.1,251.0 L537.1,251.3 L537.8,252.0 L538.6,252.0 L538.9,252.5 L539.4,251.8 L540.1,252.2 L540.9,252.3 L541.7,252.6 L542.2,252.5 L542.4,248.8 L542.6,247.0 L543.2,246.5 L544.0,247.4 L544.8,246.7 L545.4,246.5 L545.5,244.2 L545.7,241.0 L546.3,238.0 L546.3,238.7 L547.1,236.9 L547.8,234.6 L548.1,233.5 L548.6,233.0 L549.4,231.9 L550.1,230.4 L550.9,229.1 L550.9,229.7 L551.7,229.9 L552.4,228.9 L553.2,228.7 L554.0,228.1 L554.8,228.0 L555.5,227.5 L555.5,227.1 L556.3,226.5 L557.1,225.8 L557.8,224.5 L558.6,224.6 L559.4,223.8 L560.1,222.6 L560.1,223.4 L560.9,222.2 L561.7,219.7 L562.5,218.7 L562.9,217.7 L563.2,217.6 L564.0,217.4 L564.8,217.6 L565.5,217.3 L565.7,217.6 L566.3,217.1 L567.1,217.1 L567.8,217.2 L568.6,216.8 L569.4,215.9 L570.1,217.3 L570.9,216.6 L571.7,216.5 L572.3,216.4 L572.5,215.5 L572.7,211.8 L573.2,209.7 L574.0,206.6 L574.0,206.7 L574.8,204.8 L575.5,202.9 L576.3,201.3 L577.1,199.1 L577.8,198.4 L578.6,196.4 L578.6,196.8 L579.4,194.8 L580.2,193.4 L580.9,192.0 L581.7,190.6 L582.5,188.8 L583.2,186.8 L583.2,186.4 L584.0,185.5 L584.8,185.0 L585.5,183.6 L586.3,182.3 L587.1,181.2 L587.8,180.0 L587.8,179.7 L588.6,179.5 L589.4,179.3 L590.2,179.3 L590.9,178.3 L591.7,178.3 L592.5,177.3 L592.5,177.1 L593.2,176.5 L594.0,174.8 L594.8,173.6 L595.5,171.6 L596.3,170.9 L597.1,170.5 L597.1,169.7 L597.9,167.4 L598.6,165.3 L599.4,163.0 L599.9,161.3 L600.2,161.2 L600.9,161.0 L601.7,161.3 L601.7,161.0 L602.5,161.5 L603.2,161.5 L604.0,161.1 L604.8,161.3 L605.5,161.1 L606.3,160.0 L607.1,160.7 L607.9,161.3 L608.6,161.7 L609.4,161.3 L610.2,160.9 L610.6,160.9 L610.9,159.6 L611.7,156.9 L612.5,154.2 L613.2,151.5 L614.0,148.7 L614.8,146.0 L615.6,143.3 L616.3,140.6 L616.7,139.4" fill="none" stroke="#e81a20" stroke-width="2.45" stroke-linejoin="round" stroke-linecap="round"/>

<g class="axis">
<line x1="47" x2="616.4" y1="586.5" y2="586.5"/>
<g class="tk">
<line x1="47.5" x2="47.5" y1="586" y2="592"/>
<line x1="139.5" x2="139.5" y1="586" y2="592"/>
<line x1="232.5" x2="232.5" y1="586" y2="592"/>
<line x1="324.5" x2="324.5" y1="586" y2="592"/>
<line x1="416.5" x2="416.5" y1="586" y2="592"/>
<line x1="509.5" x2="509.5" y1="586" y2="592"/>
<line x1="601.5" x2="601.5" y1="586" y2="592"/>
</g>
</g>
<g class="al">
<text x="630.99" y="591.5" textLength="8.01" lengthAdjust="spacingAndGlyphs">0</text>
<text x="630.97" y="532.775" textLength="8.31" lengthAdjust="spacingAndGlyphs">5</text>
<text x="631.36" y="474.04999999999995" textLength="13.3" lengthAdjust="spacingAndGlyphs">10</text>
<text x="631.36" y="415.325" textLength="13.3" lengthAdjust="spacingAndGlyphs">15</text>
<text x="630.73" y="356.59999999999997" textLength="16.12" lengthAdjust="spacingAndGlyphs">20</text>
<text x="630.73" y="297.87499999999994" textLength="16.12" lengthAdjust="spacingAndGlyphs">25</text>
<text x="631.0" y="239.14999999999998" textLength="15.85" lengthAdjust="spacingAndGlyphs">30</text>
<text x="631.0" y="180.42499999999995" textLength="15.85" lengthAdjust="spacingAndGlyphs">35</text>
<text x="631.25" y="121.7" textLength="15.59" lengthAdjust="spacingAndGlyphs">40</text>
<text x="556.57" y="122.0" textLength="66.85" lengthAdjust="spacingAndGlyphs">Trillion US$</text>
<text x="33.34" y="612.2" textLength="27.06" lengthAdjust="spacingAndGlyphs">1995</text>
<text x="123.45" y="612.2" textLength="31.43" lengthAdjust="spacingAndGlyphs">2000</text>
<text x="216.49" y="612.2" textLength="29.97" lengthAdjust="spacingAndGlyphs">2005</text>
<text x="309.94" y="612.2" textLength="27.67" lengthAdjust="spacingAndGlyphs">2010</text>
<text x="402.74" y="612.2" textLength="27.67" lengthAdjust="spacingAndGlyphs">2015</text>
<text x="494.07" y="612.2" textLength="30.6" lengthAdjust="spacingAndGlyphs">2020</text>
<text x="580.21" y="612.2" textLength="66.87" lengthAdjust="spacingAndGlyphs">2025-10-22</text>
</g>

<g class="box">
<rect x="563.1" y="34.7" width="82.2" height="47" rx="2" fill="#dededf"/>
<rect x="566.1" y="63.1" width="76.1" height="15.6" rx="2.6" fill="#0f1c33"/>
<g class="bx">
<text x="568.88" y="46.5" textLength="71.38" lengthAdjust="spacingAndGlyphs">Total Public Debt</text>
<text x="570.68" y="58.4" textLength="67.39" lengthAdjust="spacingAndGlyphs">October 22, 2025</text>
</g>
<g class="bp">
<text x="571.06" y="75.3" textLength="68.02" lengthAdjust="spacingAndGlyphs">$38.0 Trillion</text>
</g>
</g>

<g class="growth">
<circle cx="339.7" cy="163.4" r="36.9" fill="#0c1d2c" stroke="#d5dbe4" stroke-width="1.1" stroke-dasharray="5.2 3.2"/>
<g class="gr">
<text x="321.1" y="151.4" textLength="37.61" lengthAdjust="spacingAndGlyphs">Growth</text>
<text x="310.5" y="166.8" textLength="58.05" lengthAdjust="spacingAndGlyphs">2000–2025</text>
</g>
<g class="gb">
<text x="314.71" y="181.7" textLength="49.97" lengthAdjust="spacingAndGlyphs">7.9% CAGR</text>
</g>
</g>

<g class="ann">
<line x1="292.2" x2="292.2" y1="434" y2="475.5" stroke="#c9cdd6" stroke-width="1.1"/>
<circle cx="292.2" cy="429.6" r="4.35" fill="#02071c" stroke="#ffffff" stroke-width="1.2"/>
<line x1="511.8" x2="511.8" y1="260.5" y2="312.5" stroke="#c9cdd6" stroke-width="1.1"/>
<circle cx="511.8" cy="256" r="4.35" fill="#02071c" stroke="#ffffff" stroke-width="1.2"/>
<g class="yr">
<text x="255.36" y="433.5" textLength="28.27" lengthAdjust="spacingAndGlyphs">2008</text>
<text x="474.86" y="260.1" textLength="28.48" lengthAdjust="spacingAndGlyphs">2020</text>
</g>
<g class="ds">
<text x="194.08" y="446.8" textLength="89.38" lengthAdjust="spacingAndGlyphs">Global Financial Crisis</text>
<text x="419.18" y="273.9" textLength="83.39" lengthAdjust="spacingAndGlyphs">COVID-19 Pandemic</text>
</g>
</g>

<g class="foot">
<g class="ft">
<text x="34.1" y="655.6" textLength="179.74" lengthAdjust="spacingAndGlyphs">Source: U.S. Department of the Treasury</text>
<text x="427.8" y="655.6" textLength="86.49" lengthAdjust="spacingAndGlyphs">www.econovis.net</text>
<text x="546.38" y="655.6" textLength="69.7" lengthAdjust="spacingAndGlyphs">@econovisuals</text>
</g>
<circle cx="536.45" cy="650.9" r="7.1" fill="#070b1c" stroke="#a3a8b8" stroke-width="1.1"/>
<polygon points="532.8,646.9 535.2,646.9 541,654.9 538.6,654.9" fill="#e9ebf0"/>
<line x1="540.5" y1="646.9" x2="533.3" y2="654.9" stroke="#e6e8ee" stroke-width="1.05"/>
<circle cx="636" cy="651.4" r="9.7" fill="#0b0509" stroke="#8d7a62" stroke-width="1"/>
<g class="ev">
<text x="629.37" y="656.9" textLength="12.83" lengthAdjust="spacingAndGlyphs">EV</text>
</g>
</g>
</svg>
</body>
</html>
